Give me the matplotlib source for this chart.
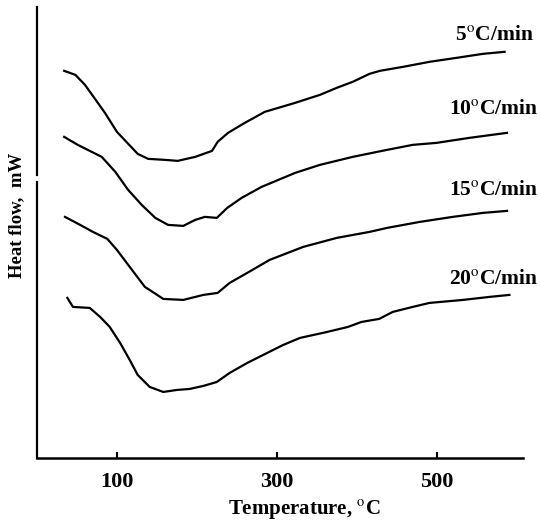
import matplotlib
matplotlib.use('Agg')
import matplotlib.pyplot as plt
from matplotlib.lines import Line2D

plt.rcParams['font.family'] = ['Liberation Serif', 'DejaVu Serif']
plt.rcParams['mathtext.fontset'] = 'stix'

# DSC traces, temperature in C, heat flow in arbitrary units
t_5 = [34, 48, 60, 69, 85, 100, 113, 126, 139, 160, 176, 198, 219, 226, 239, 260,
       285, 323, 354, 375, 395, 416, 429, 458, 491, 525, 558, 585]
hf_5 = [387, 383, 373, 363, 345, 326, 315, 304, 299, 298, 297, 301, 307, 316, 325, 335,
        346, 355, 363, 370, 376, 384, 387, 391, 396, 400, 404, 406]

t_10 = [34, 51, 81, 98, 114, 131, 148, 164, 183, 198, 210, 225, 238, 256, 281, 323,
        354, 395, 438, 470, 500, 541, 588]
hf_10 = [321, 313, 301, 286, 268, 253, 240, 233, 232, 238, 241, 240, 250, 260, 271, 285,
         293, 301, 308, 313, 315, 320, 325]

t_15 = [35, 54, 70, 88, 100, 116, 135, 158, 183, 208, 226, 241, 263, 291, 333, 375,
        416, 438, 479, 520, 558, 588]
hf_15 = [241, 233, 226, 219, 208, 191, 171, 159, 158, 163, 165, 175, 185, 198, 211, 220,
         226, 230, 236, 241, 245, 247]

t_20 = [38, 45, 66, 79, 91, 104, 116, 126, 141, 158, 175, 191, 208, 225, 241, 263,
        283, 308, 329, 363, 389, 406, 428, 445, 470, 491, 533, 566, 591]
hf_20 = [160, 151, 150, 141, 131, 115, 98, 83, 71, 66, 68, 69, 72, 76, 85, 95,
         103, 113, 120, 126, 131, 136, 139, 146, 151, 155, 158, 161, 163]

rates = ['5', '10', '15', '20']
label_pos = [(572, 423), (571, 349), (571, 268), (571, 179)]

fig = plt.figure(figsize=(5.4, 5.24), dpi=100)
ax = fig.add_axes([0.0685, 0.126, 0.9, 0.861])

for t, hf in [(t_5, hf_5), (t_10, hf_10), (t_15, hf_15), (t_20, hf_20)]:
    ax.plot(t, hf, color='black', lw=1.6, solid_joinstyle='round')

deg = '$^{\\mathrm{o}}$'
for r, (x, y) in zip(rates, label_pos):
    ax.text(x, y, r + deg + 'C/min', fontsize=15.5, fontweight='bold',
            ha='center', va='center', clip_on=False)

ax.set_xlim(0, 608)
ax.set_ylim(0, 451)

for s in ['top', 'right', 'left']:
    ax.spines[s].set_visible(False)
ax.spines['bottom'].set_linewidth(1.8)

# left axis line is broken in the scan
ax.add_line(Line2D([0, 0], [0, 0.612], transform=ax.transAxes, color='black',
                   lw=1.6, clip_on=False))
ax.add_line(Line2D([0, 0], [0.627, 1], transform=ax.transAxes, color='black',
                   lw=1.6, clip_on=False))

ax.set_xticks([100, 300, 500])
ax.set_yticks([])
ax.tick_params(axis='x', direction='in', length=4, width=1.5, pad=10, labelsize=16)
for lab in ax.get_xticklabels():
    lab.set_fontweight('bold')

ax.set_xlabel('Temperature, ' + deg + 'C', fontsize=15, fontweight='bold')
ax.xaxis.set_label_coords(0.55, -0.09)
ax.set_ylabel('Heat flow,  mW', fontsize=13.5, fontweight='bold')
ax.yaxis.set_label_coords(-0.025, 0.537)

fig.savefig('out.png', dpi=100)
